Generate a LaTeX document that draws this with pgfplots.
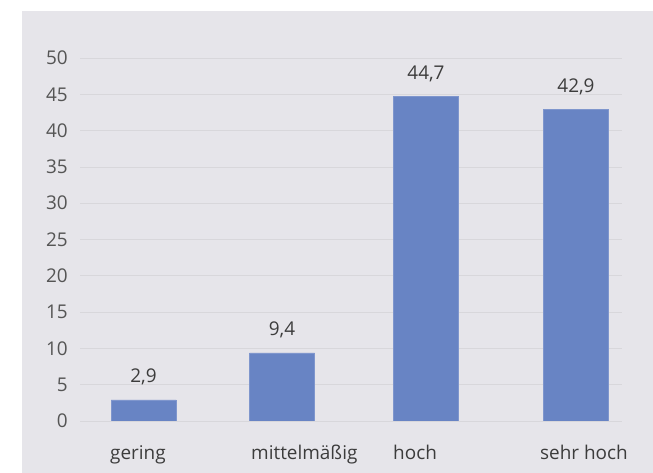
\documentclass[border=0pt]{standalone}
\usepackage{fontspec}
\setmainfont{Open Sans}
\usepackage{pgfplots}
\pgfplotsset{compat=1.18}
\definecolor{bgcol}{HTML}{E6E5EA}
\definecolor{barcol}{HTML}{6884C4}
\definecolor{gridcol}{HTML}{D8D7DB}
\definecolor{txtcol}{HTML}{3C3C3C}
\definecolor{tickcol}{HTML}{555555}
\begin{document}
\begin{tikzpicture}
\path[use as bounding box] (0bp,0bp) rectangle (653bp,473bp);
\fill[bgcol] (22bp,0bp) rectangle (653bp,462bp);
\begin{axis}[
    at={(80bp,52bp)}, anchor=south west,
    scale only axis,
    width=542bp, height=363bp,
    xmin=80, xmax=622,
    ymin=0, ymax=50,
    ytick={0,5,...,50},
    xtick={110,251,393,540},
    xticklabels={gering,mittelmäßig,hoch,sehr hoch},
    axis line style={draw=none},
    tick style={draw=none},
    ymajorgrids,
    grid style={gridcol, line width=0.8pt},
    /pgf/number format/assume math mode=true,
    font=\fontsize{19}{21}\selectfont,
    yticklabel style={tickcol, anchor=east, inner sep=0pt, xshift=-12bp},
    xticklabel style={txtcol, anchor=base west, inner sep=0pt, yshift=-38bp},
    ]
\addplot[ybar, bar width=65, fill=barcol, draw=barcol!85!white,
    nodes near coords={\pgfmathprintnumber[fixed,fixed zerofill,precision=1,use comma]{\pgfplotspointmeta}},
    nodes near coords style={txtcol, anchor=base, inner sep=0pt, yshift=17bp}]
    coordinates {(143.5,2.9) (282,9.4) (426,44.7) (576,42.9)};
\end{axis}
\end{tikzpicture}
\end{document}
